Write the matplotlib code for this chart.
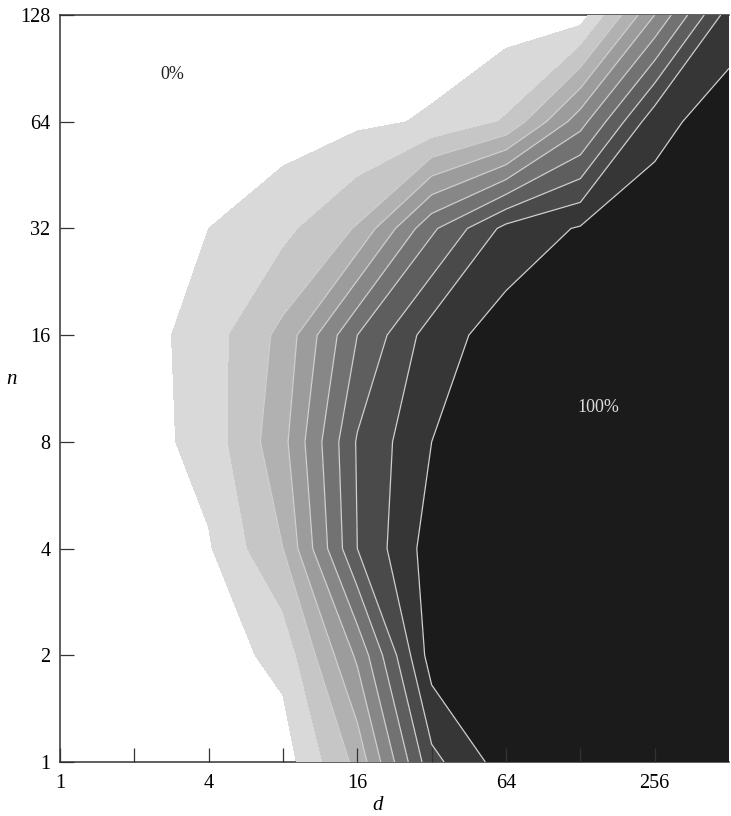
import numpy as np
import matplotlib
matplotlib.use("Agg")
import matplotlib.pyplot as plt

# grid of the contour data: d and n are powers of two
d_vals = [1, 2, 4, 8, 16, 32, 64, 128, 256, 512]
n_vals = [1, 2, 4, 8, 16, 32, 64, 128]

# percentage at each (n, d) grid point, one row per n
pct_n1 = [0, 0, 0, 0, 28, 82, 100, 100, 100, 100]
pct_n2 = [0, 0, 0, 8, 47, 100, 100, 100, 100, 100]
pct_n4 = [0, 0, 4, 25, 75, 100, 100, 100, 100, 100]
pct_n8 = [0, 0, 9, 32, 76, 95, 100, 100, 100, 100]
pct_n16 = [0, 0, 10, 28, 65, 90, 100, 100, 100, 100]
pct_n32 = [0, 0, 5, 12, 26, 63, 88, 96, 100, 100]
pct_n64 = [0, 0, 0, 0, 3, 6, 16, 51, 92, 100]
pct_n128 = [0, 0, 0, 0, 0, 0, 0, 0, 45, 90]

levels = [-1, 5, 15, 25, 35, 45, 55, 65, 75, 85, 95, 101]
band_colors = ['none', '#d9d9d9', '#c6c6c6', '#b1b1b1', '#9c9c9c', '#878787',
               '#727272', '#5e5e5e', '#4a4a4a', '#363636', '#1b1b1b']

x_ticklabels = ['1', '', '4', '', '16', '', '64', '', '256']
y_ticklabels = ['1', '2', '4', '8', '16', '32', '64', '128']

Z = np.array([pct_n1, pct_n2, pct_n4, pct_n8, pct_n16, pct_n32, pct_n64, pct_n128])
U = np.log2(d_vals)
V = np.log2(n_vals)

plt.rcParams['font.family'] = ['Liberation Serif', 'DejaVu Serif']

fig = plt.figure(figsize=(7.31, 8.16), dpi=100)
ax = fig.add_axes([60/731, 54/816, 669/731, 747/816])

ax.contourf(U, V, Z, levels=levels, colors=band_colors)
ax.contour(U, V, Z, levels=levels[3:-1], colors='#d0d0d0', linewidths=0.9)

ax.set_xlim(0, 9)
ax.set_ylim(0, 7)

ax.set_xticks(range(len(x_ticklabels)))
ax.set_xticklabels(x_ticklabels)
ax.set_yticks(range(len(y_ticklabels)))
ax.set_yticklabels(y_ticklabels)
ax.tick_params(direction='in', length=10, width=0.9, labelsize=14.5, color='#333333')
ax.tick_params(axis='x', pad=9)
ax.tick_params(axis='y', pad=7)

# ticks over the dark fill show up light
for i, t in enumerate(ax.xaxis.get_major_ticks()):
    if i >= 5:
        t.tick1line.set_color('#cfcfcf')

# the spines sit under the grey fill, only visible on the white part
for s in ax.spines.values():
    s.set_zorder(0.5)
    s.set_color('#333333')
    s.set_linewidth(1.1)
ax.spines['right'].set_visible(False)

ax.set_xlabel('d', fontsize=15, style='italic')
ax.xaxis.set_label_coords(0.475, -0.045)
ax.set_ylabel('n', fontsize=15, style='italic', rotation=0)
ax.yaxis.set_label_coords(-0.072, 0.5)

ax.text(1.51, 6.44, '0%', fontsize=13, color='#222222', ha='center', va='center')
ax.text(7.24, 3.32, '100%', fontsize=13, color='#dddddd', ha='center', va='center')

fig.savefig('out.png', dpi=100)
